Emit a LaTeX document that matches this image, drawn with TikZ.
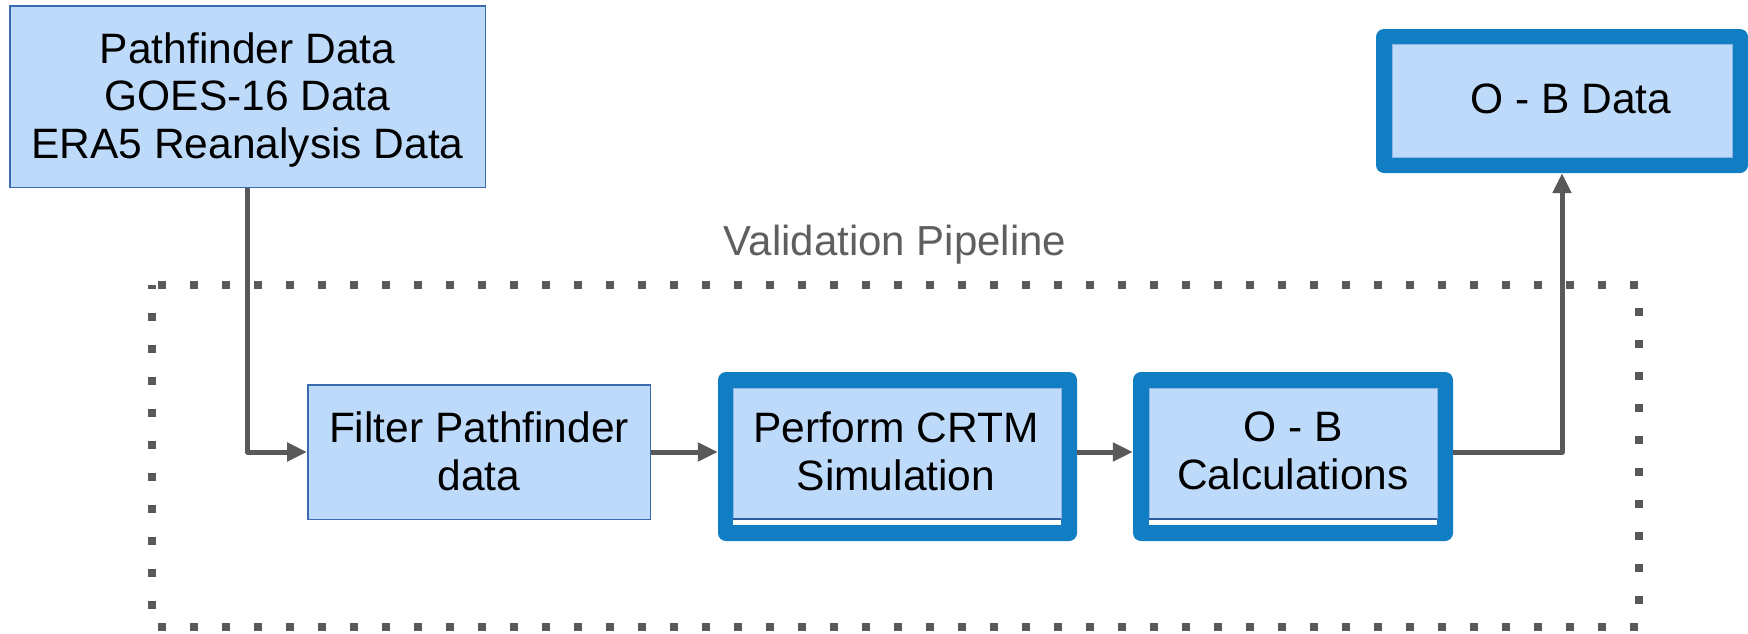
\documentclass[tikz,border=0pt]{standalone}
\usepackage{fontspec}
\setmainfont{Liberation Sans}
\usetikzlibrary{arrows.meta}
\definecolor{boxfill}{HTML}{BDDAFB}
\definecolor{thinedge}{HTML}{3A6BAE}
\definecolor{thickblue}{HTML}{117EC3}
\definecolor{inneredge}{HTML}{8DB6E6}
\definecolor{lineband}{HTML}{2F5C9C}
\definecolor{connc}{HTML}{595959}
\definecolor{labelgray}{HTML}{5F5F5F}
\begin{document}
\begin{tikzpicture}[x=1pt,y=-1pt,
  thinbox/.style={draw=thinedge, line width=1.5pt, fill=boxfill, inner sep=0pt},
  thickbox/.style={fill=thickblue, rounded corners=8pt, inner sep=0pt},
  innerpanel/.style={fill=boxfill, draw=inneredge, line width=1pt},
  txt/.style={font=\fontsize{42.5}{48}\selectfont, align=center, inner sep=0pt, text=black},
  conn/.style={draw=connc, line width=5pt, line join=round, -{Triangle[length=20pt,width=18pt]}},
  dotframe/.style={draw=connc, line width=8pt, dash pattern=on 8pt off 24pt, dash phase=4pt}
]
\useasboundingbox (0,0) rectangle (1748,633);

% dotted pipeline frame
\draw[dotframe] (152,285) rectangle (1639,627);
\node[font=\fontsize{42}{48}\selectfont, text=labelgray, anchor=base, inner sep=0pt] (lbl) at (895,255) {Validation Pipeline};

% boxes (shapes)
\node[thinbox, minimum width=475.5pt, minimum height=181.5pt] (src) at (247.5,96.5) {};
\node[thinbox, minimum width=342.5pt, minimum height=134.5pt] (filter) at (479,452) {};
\node[thickbox, minimum width=359pt, minimum height=169pt] (crtm) at (897.5,456.5) {};
\node[thickbox, minimum width=320pt, minimum height=169pt] (calc) at (1293,456.5) {};
\node[thickbox, minimum width=372pt, minimum height=144pt] (data) at (1562,101) {};

% inner panels of thick boxes
\draw[innerpanel] (733,388) rectangle (1061,518.5);
\draw[lineband, line width=1.5pt] (733,519) -- (1061,519);
\fill[white] (733,520) rectangle (1061,524.5);
\draw[innerpanel] (1149,388) rectangle (1437,518.5);
\draw[lineband, line width=1.5pt] (1149,519) -- (1437,519);
\fill[white] (1149,520) rectangle (1437,524.5);
\draw[innerpanel] (1392,44) rectangle (1732,157);

% texts
\node[txt, font=\fontsize{42.5}{47.5}\selectfont] (srctxt) at (247.5,99.9) {Pathfinder Data\\GOES-16 Data\\ERA5 Reanalysis Data};
\node[txt] (filtertxt) at (479,451) {Filter Pathfinder\\data};
\node[txt] (crtmtxt) at (896,451) {Perform CRTM\\Simulation};
\node[txt] (calctxt) at (1293,451) {O - B\\Calculations};
\node[txt] (datatxt) at (1571,98.5) {O - B Data};

% connectors
\draw[conn] (src.south) |- (filter.west);
\draw[conn] (filter.east) -- (filter.east -| crtm.west);
\draw[conn] ([yshift=4.5pt]crtm.east) -- ([yshift=4.5pt]calc.west);
\draw[conn] ([yshift=4.5pt]calc.east) -| (data.south);
\end{tikzpicture}
\end{document}
